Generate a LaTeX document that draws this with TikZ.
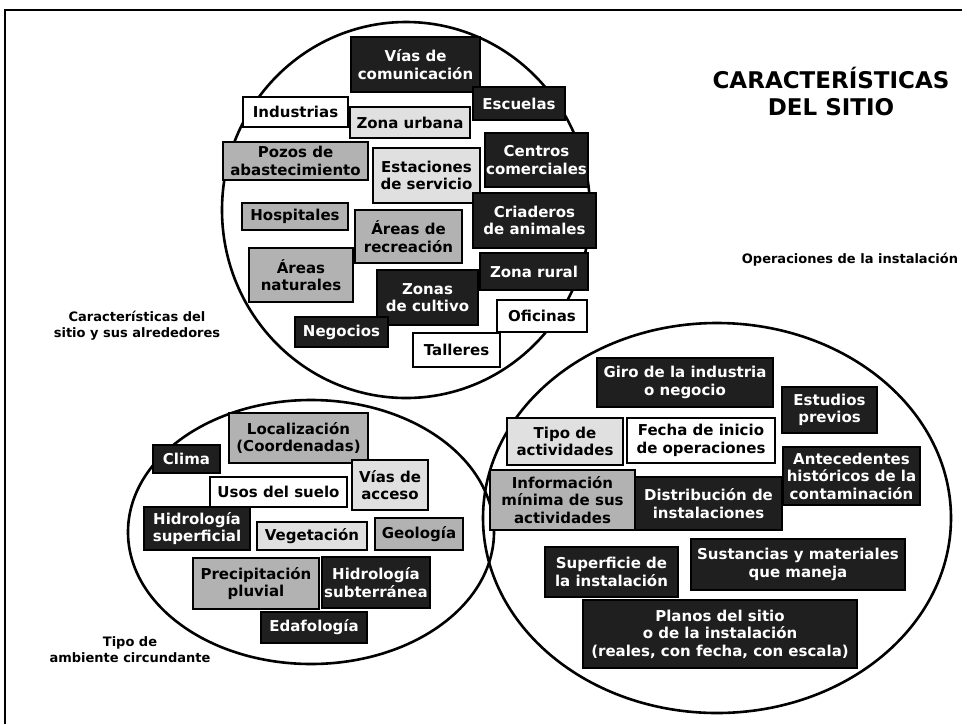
\documentclass[tikz,border=0pt]{standalone}
\usepackage{fontspec}
\setmainfont{DejaVu Sans}
\usepackage{tikz}

\begin{document}
\begin{tikzpicture}[x=1pt,y=-1pt,
  bx/.style={draw=black,line width=1.8pt,align=center,inner sep=1pt,
    font=\fontsize{15pt}{17.5pt}\selectfont\bfseries},
  darkbx/.style={bx,fill=black!88,text=white},
  greybx/.style={bx,fill=black!30},
  lightbx/.style={bx,fill=black!12},
  whitebx/.style={bx,fill=white},
  zone/.style={line width=2.6pt},
  lbl/.style={align=center,font=\fontsize{13pt}{16pt}\selectfont\bfseries}]
\useasboundingbox (0,0) rectangle (967,724);
% frame
\draw[line width=1.6pt] (5,724) -- (5,10) -- (962,10);
% zones
\draw[zone] (406,210) ellipse [x radius=184,y radius=188];
\draw[zone] (311,532) ellipse [x radius=183,y radius=132];
\draw[zone] (717,518) ellipse [x radius=234,y radius=195];
% titles
\node[lbl,font=\fontsize{23pt}{27pt}\selectfont\bfseries] (title) at (831,91) {CARACTERÍSTICAS\\DEL SITIO};
\node[lbl] (lblsitio) at (137,326) {Características del\\sitio y sus alrededores};
\node[lbl] (lbloper) at (850,260) {Operaciones de la instalación};
\node[lbl] (lblamb) at (130,650) {Tipo de\\ambiente circundante};
% sitio y alrededores
\node[darkbx,minimum width=129,minimum height=55] (vias) at (415.5,64.5) {Vías de\\comunicación};
\node[whitebx,minimum width=105,minimum height=30] (industrias) at (295.5,112) {Industrias};
\node[lightbx,minimum width=120,minimum height=31] (zonaurb) at (410,122.5) {Zona urbana};
\node[darkbx,minimum width=92,minimum height=33] (escuelas) at (519,103.5) {Escuelas};
\node[greybx,minimum width=145,minimum height=38] (pozos) at (295.5,161) {Pozos de\\abastecimiento};
\node[lightbx,minimum width=107,minimum height=55] (estaciones) at (426.5,175.5) {Estaciones\\de servicio};
\node[darkbx,minimum width=103,minimum height=54] (centros) at (536.5,160) {Centros\\comerciales};
\node[greybx,minimum width=106,minimum height=27] (hospitales) at (295,216.5) {Hospitales};
\node[greybx,minimum width=107,minimum height=53] (areasrec) at (408.5,236.5) {Áreas de\\recreación};
\node[darkbx,minimum width=123,minimum height=55] (criaderos) at (534.5,220.5) {Criaderos\\de animales};
\node[greybx,minimum width=104,minimum height=54] (areasnat) at (301,275) {Áreas\\naturales};
\node[darkbx,minimum width=101,minimum height=55] (cultivo) at (427.5,297.5) {Zonas\\de cultivo};
\node[darkbx,minimum width=108,minimum height=37] (zonarur) at (534,271.5) {Zona rural};
\node[darkbx,minimum width=93,minimum height=30] (negocios) at (341.5,332) {Negocios};
\node[whitebx,minimum width=90,minimum height=32] (oficinas) at (542,316) {Oficinas};
\node[whitebx,minimum width=87,minimum height=34] (talleres) at (456.5,350) {Talleres};
% ambiente circundante
\node[greybx,minimum width=139,minimum height=50] (localiz) at (298.5,438) {Localización\\(Coordenadas)};
\node[darkbx,minimum width=67,minimum height=28] (clima) at (186.5,459) {Clima};
\node[lightbx,minimum width=76,minimum height=50] (acceso) at (390,485) {Vías de\\acceso};
\node[whitebx,minimum width=137,minimum height=30] (usos) at (278.5,492) {Usos del suelo};
\node[darkbx,minimum width=106,minimum height=43] (hidrosup) at (197,528.5) {Hidrología\\superficial};
\node[lightbx,minimum width=110,minimum height=28] (vegetacion) at (312,536) {Vegetación};
\node[greybx,minimum width=88,minimum height=32] (geologia) at (419,534) {Geología};
\node[greybx,minimum width=126,minimum height=51] (precip) at (256,583.5) {Precipitación\\pluvial};
\node[darkbx,minimum width=108,minimum height=51] (hidrosub) at (376,582.5) {Hidrología\\subterránea};
\node[darkbx,minimum width=106,minimum height=31] (edafo) at (314,627.5) {Edafología};
% operaciones
\node[darkbx,minimum width=176,minimum height=49] (giro) at (685,382.5) {Giro de la industria\\o negocio};
\node[darkbx,minimum width=95,minimum height=46] (estudios) at (829.5,410) {Estudios\\previos};
\node[lightbx,minimum width=116,minimum height=47] (tipoact) at (565,441.5) {Tipo de\\actividades};
\node[whitebx,minimum width=148,minimum height=45] (fecha) at (701,440.5) {Fecha de inicio\\de operaciones};
\node[darkbx,minimum width=137,minimum height=58] (antec) at (851.5,476) {Antecedentes\\históricos de la\\contaminación};
\node[greybx,minimum width=145,minimum height=60] (info) at (562.5,500) {Información\\mínima de sus\\actividades};
\node[darkbx,minimum width=147,minimum height=53] (distrib) at (708.5,503.5) {Distribución de\\instalaciones};
\node[darkbx,minimum width=133,minimum height=50] (superf) at (611.5,572) {Superficie de\\la instalación};
\node[darkbx,minimum width=214,minimum height=51] (sustancias) at (798,564.5) {Sustancias y materiales\\que maneja};
\node[darkbx,minimum width=274,minimum height=68] (planos) at (720,634) {Planos del sitio\\o de la instalación\\(reales, con fecha, con escala)};
\end{tikzpicture}
\end{document}
